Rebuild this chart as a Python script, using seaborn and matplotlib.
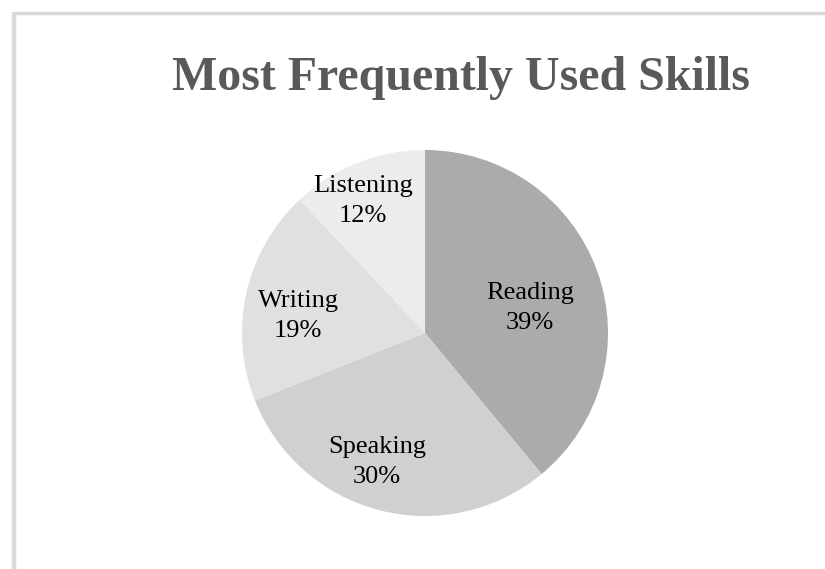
import matplotlib
matplotlib.use("Agg")
import matplotlib.pyplot as plt
import numpy as np
import seaborn as sns
from matplotlib.lines import Line2D

# data
skills = ["Reading", "Speaking", "Writing", "Listening"]
shares = [39, 30, 19, 12]
colors = ["#ababab", "#d0d0d0", "#e0e0e0", "#ececec"]

# label placement (radius fraction, angle nudge in degrees)
label_dist = [0.59, 0.752, 0.70, 0.797]
label_nudge = [-6.4, -6.0, 5.0, 3.6]

sns.set_theme(style="white")
plt.rcParams["font.family"] = ["Liberation Serif", "DejaVu Serif"]

W, H = 825, 569
fig = plt.figure(figsize=(W / 100, H / 100), dpi=100)

# pie centre (425, 333) px, radius 183 px
cx, cy, r = 425, 333, 183
ax = fig.add_axes([(cx - r) / W, (H - cy - r) / H, 2 * r / W, 2 * r / H])

labels = [f"{s}\n{v}%" for s, v in zip(skills, shares)]
wedges, texts = ax.pie(
    shares,
    colors=colors,
    startangle=90,
    counterclock=False,
    labels=labels,
    labeldistance=0.7,
    wedgeprops=dict(linewidth=0),
    textprops=dict(fontsize=19, color="#000000", linespacing=1.5),
)
for w, t, d, n in zip(wedges, texts, label_dist, label_nudge):
    ang = np.deg2rad((w.theta1 + w.theta2) / 2 + n)
    t.set_position((d * np.cos(ang), d * np.sin(ang)))
    t.set_ha("center")
    t.set_va("center")
    t.set_multialignment("center")
ax.set_xlim(-1, 1)
ax.set_ylim(-1, 1)
ax.set_aspect("equal")

fig.text(461 / W, 1 - 78 / H, "Most Frequently Used Skills", ha="center",
         va="center", fontsize=34.5, fontweight="bold", color="#595959")

# light grey chart-area border (top and left visible)
fig.add_artist(Line2D([13.5 / W, 13.5 / W], [0, 1 - 12 / H], transform=fig.transFigure,
                      color="#d9d9d9", linewidth=3.2, solid_capstyle="butt"))
fig.add_artist(Line2D([11.5 / W, 1], [1 - 12.5 / H, 1 - 12.5 / H], transform=fig.transFigure,
                      color="#d9d9d9", linewidth=2.4, solid_capstyle="butt"))

fig.savefig("out.png", dpi=100)
